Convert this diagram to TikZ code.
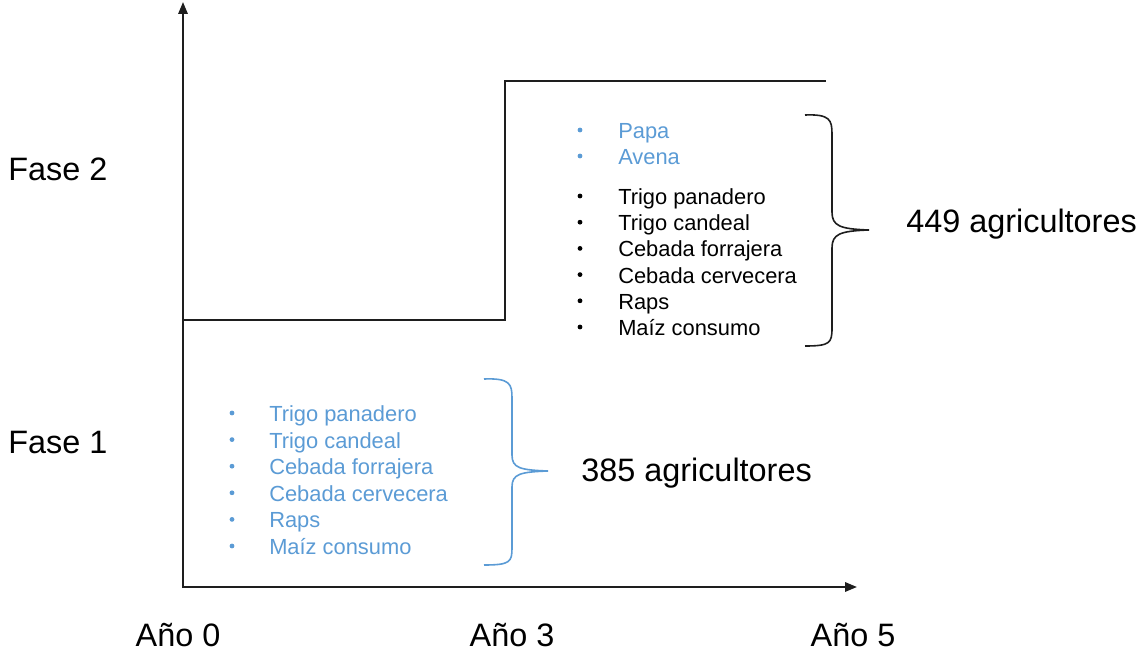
\documentclass[tikz,border=0pt]{standalone}
\usepackage{fontspec}
\setmainfont{Liberation Sans}
\usetikzlibrary{arrows.meta}
\definecolor{bl}{RGB}{91,155,213}
\definecolor{ln}{RGB}{30,30,30}
\begin{document}
\begin{tikzpicture}[x=0.75pt,y=-0.75pt,
  big/.style={anchor=base west,inner sep=0pt,font=\fontsize{24.3}{28}\selectfont},
  bigc/.style={anchor=base,inner sep=0pt,font=\fontsize{24.3}{28}\selectfont},
  item/.style={anchor=base west,inner sep=0pt,font=\fontsize{16.4}{20}\selectfont},
  bul/.style={circle,fill,inner sep=0pt,minimum size=3.6pt},
  axis/.style={draw=ln,line width=1.6pt,-{Triangle[length=9pt,width=7pt]}},
  stepline/.style={draw=ln,line width=1.2pt},
  brace/.style={line width=1.2pt}]
\useasboundingbox (0,0) rectangle (1140,652);
% axes
\coordinate (o) at (183,588);
\coordinate (ytop) at (183,2);
\coordinate (xend) at (857,587);
\draw[axis] (o) -- (ytop);
\draw[axis] (183,587) -- (xend);
% step
\coordinate (s0) at (183,320);
\coordinate (s1) at (505,320);
\coordinate (s2) at (505,81);
\coordinate (s3) at (826,81);
\draw[stepline] (s0) -- (s1) -- (s2) -- (s3);
% labels
\node[big] (f2) at (8,181) {Fase 2};
\node[big] (f1) at (8,454) {Fase 1};
\node[bigc] (a0) at (178,646) {Año 0};
\node[bigc] (a3) at (512,646) {Año 3};
\node[bigc] (a5) at (853,646) {Año 5};
% phase 1 list (blue)
\begin{scope}[bl]
\foreach \t [count=\i from 0] in {Trigo panadero,Trigo candeal,Cebada forrajera,Cebada cervecera,Raps,Maíz consumo}{
  \node[bul] (b1\i) at (232,{413+26.6*\i}) {};
  \node[item] (t1\i) at (269,{421.5+26.6*\i}) {\t};
}
\draw[brace] (484,379) .. controls (510,378) and (512,384) .. (512,398) -- (512,455)
  .. controls (512,468) and (520,470) .. (548,471)
  .. controls (520,472) and (512,474) .. (512,487) -- (512,548)
  .. controls (512,562) and (510,565) .. (484,565);
\node[big,black] (n385) at (581,482) {385 agricultores};
\end{scope}
% phase 2 list
\node[bul,bl] (p0) at (580,130) {};
\node[item,bl] (q0) at (618,138.5) {Papa};
\node[bul,bl] (p1) at (580,156) {};
\node[item,bl] (q1) at (618,164.5) {Avena};
\foreach \t [count=\i from 0] in {Trigo panadero,Trigo candeal,Cebada forrajera,Cebada cervecera,Raps,Maíz consumo}{
  \node[bul] (b2\i) at (580,{196+26.2*\i}) {};
  \node[item] (t2\i) at (618,{204.5+26.2*\i}) {\t};
}
\draw[brace,ln] (805,115) .. controls (830,114) and (832,120) .. (832,134) -- (832,212)
  .. controls (832,226) and (840,229) .. (869,230)
  .. controls (840,231) and (832,234) .. (832,248) -- (832,328)
  .. controls (832,343) and (830,346) .. (805,346);
\node[big] (n449) at (906,233) {449 agricultores};
\end{tikzpicture}
\end{document}
